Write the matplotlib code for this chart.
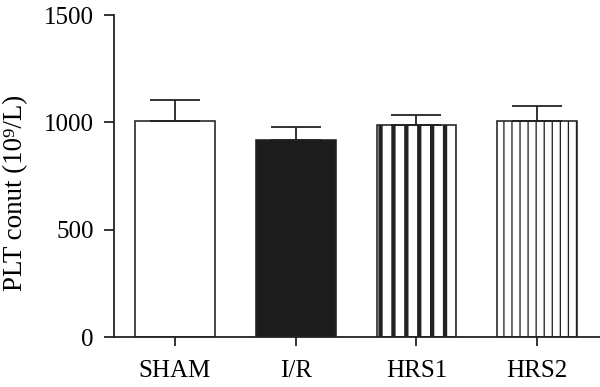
import matplotlib
matplotlib.use("Agg")
import matplotlib.pyplot as plt

categories = ["SHAM", "I/R", "HRS1", "HRS2"]
means = [1006, 918, 988, 1005]
errors = [98, 60, 46, 71]
yticks = [0, 500, 1000, 1500]

D = 387.0
P = 72.0 / D  # points per pixel

plt.rcParams['font.family'] = ['Liberation Serif', 'DejaVu Serif']

fig = plt.figure(figsize=(600 / D, 387 / D), dpi=D)
ax = fig.add_axes([114 / 600, 50 / 387, 486 / 600, 322 / 387])

edge = "#222222"
faces = ["white", "#1c1c1c", "white", "white"]
hatches = [None, None, "|||||", "||||||||"]
hlw = [1.0, 1.0, 4.3, 1.3]

x = list(range(len(categories)))
for i in x:
    with plt.rc_context({'hatch.linewidth': hlw[i] * P, 'hatch.color': edge}):
        b = ax.bar(x[i], means[i], width=0.66, color=faces[i], edgecolor=edge,
                   linewidth=1.6 * P, hatch=hatches[i], zorder=2)
        for p in b.patches:
            if hasattr(p, "set_hatch_linewidth"):
                p.set_hatch_linewidth(hlw[i] * P)
    ax.errorbar(x[i], means[i], yerr=[[0], [errors[i]]], fmt='none',
                ecolor=edge, elinewidth=1.8 * P, capsize=25 * P,
                capthick=1.8 * P, zorder=3)

ax.set_xlim(-0.505, 3.52)
ax.set_ylim(0, 1500)
ax.set_yticks(yticks)
ax.set_xticks(x)
ax.set_xticklabels(categories)

for s in ["top", "right"]:
    ax.spines[s].set_visible(False)
for s in ["left", "bottom"]:
    ax.spines[s].set_linewidth(1.8 * P)
    ax.spines[s].set_color(edge)

ax.tick_params(axis='y', length=10 * P, width=1.8 * P, color=edge,
               labelsize=25 * P, pad=10 * P)
ax.tick_params(axis='x', length=9 * P, width=1.8 * P, color=edge,
               labelsize=25 * P, pad=14 * P)

ax.set_ylabel("PLT conut (10⁹/L)", fontsize=27 * P)
ax.yaxis.set_label_coords(-0.176, 0.447)

fig.savefig("out.png", dpi=D)
